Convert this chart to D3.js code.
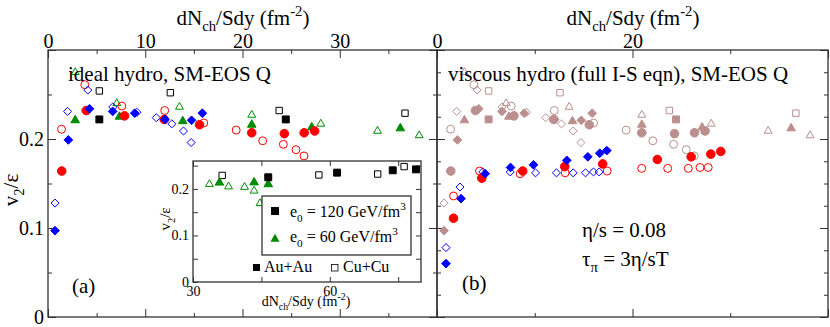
<!DOCTYPE html>
<meta charset="utf-8">
<html>
<head>
<script src="https://d3js.org/d3.v7.min.js"></script>
<style>
  body { margin: 0; background: #fff; }
  svg text { font-family: "Liberation Serif", "Times New Roman", Tinos, "Nimbus Roman", "DejaVu Serif", "Noto Serif", serif; fill: #000; }
</style>
</head>
<body>
<div id="chart"></div>
<script>
// ideal hydro points, left panel (also shown in rosy brown on the right panel)
var idealBlueFilled = [[0.72,0.097],[2.09,0.199],[4.27,0.234],[6.65,0.231],[8.92,0.229],[12.03,0.222],[14.76,0.221],[15.87,0.229]];
var idealBlueOpen = [[0.72,0.128],[2.01,0.231],[4.09,0.255],[6.66,0.236],[9.15,0.230],[11.13,0.224],[12.73,0.217],[13.93,0.209],[14.72,0.196]];
var idealRedFilled = [[1.41,0.164],[3.93,0.232],[7.87,0.226],[11.95,0.222],[15.58,0.216],[20.95,0.207],[24.30,0.206],[26.34,0.207],[27.42,0.209]];
var idealRedOpen = [[1.39,0.211],[3.78,0.261],[7.59,0.237],[12.0,0.232],[16.02,0.218],[19.35,0.210],[22.08,0.198],[24.20,0.194],[25.50,0.188],[26.32,0.181]];
var idealGreenFilled = [[2.80,0.221],[7.35,0.225],[13.86,0.220],[20.95,0.216],[27.12,0.213],[36.23,0.212]];
var idealGreenOpen = [[2.80,0.275],[7.07,0.240],[13.52,0.236],[20.95,0.227],[28.05,0.217],[33.88,0.209],[38.17,0.204]];
var idealBlackFilled = [[5.28,0.222],[24.45,0.222]];
var idealBlackOpen = [[5.28,0.254],[12.58,0.252],[23.77,0.232],[36.71,0.229]];

// viscous hydro points, right panel
var viscBlueFilled = [[0.92,0.060],[2.46,0.133],[4.93,0.161],[7.52,0.168],[9.87,0.171],[13.28,0.176],[15.43,0.180],[16.65,0.184],[17.37,0.187]];
var viscBlueOpen = [[0.92,0.078],[2.35,0.146],[4.68,0.163],[7.49,0.163],[10.08,0.162],[12.22,0.162],[13.93,0.162],[15.19,0.162],[16.01,0.163],[16.59,0.163]];
var viscRedFilled = [[1.69,0.111],[4.58,0.156],[8.77,0.164],[13.07,0.169],[16.95,0.172],[22.54,0.177],[26.0,0.180],[28.01,0.183],[29.03,0.186]];
var viscRedOpen = [[1.69,0.136],[4.35,0.164],[8.51,0.161],[13.11,0.162],[17.41,0.164],[20.94,0.167],[23.6,0.167],[25.71,0.167],[26.9,0.168],[27.75,0.168]];

// inset
var insetAuE120 = [[46.5,0.225],[61.6,0.235],[73.8,0.240],[78.9,0.242]];
var insetCuE120 = [[36.4,0.229],[57.6,0.230],[70.5,0.232],[76.3,0.248]];
var insetAuE60 = [[35.8,0.2135],[43.4,0.214],[46.5,0.210]];
var insetCuE60 = [[33.6,0.210],[37.8,0.205],[41.3,0.204],[43.4,0.196],[44.7,0.169]];

// ticks
var leftXLabelTicks = [0, 10, 20, 30];
var leftXMajor = [0, 10, 20, 30, 40];
var leftXMinor = [5, 15, 25, 35];
var rightXLabelTicks = [0, 20];
var rightXMajor = [0, 20, 40];
var rightXMinor = [10, 30];
var yLabelTicks = [0, 0.1, 0.2];
var yMajor = [0, 0.1, 0.2, 0.3];
var leftYMinor = [0.05, 0.15, 0.25];
var rightYMinor = [0.025, 0.05, 0.075, 0.125, 0.15, 0.175, 0.225, 0.25, 0.275];
var insetXLabelTicks = [30, 60];
var insetXTicks = [30, 45, 60, 75];
var insetYLabelTicks = [0, 0.1, 0.2];
var insetYTicks = [0.05, 0.1, 0.15, 0.2, 0.25];

var blue = "#0000ff", red = "#ff0000", green = "#008b00", black = "#000", rosy = "#bc8f8f";
var serif = '"Liberation Serif", "Times New Roman", Tinos, "Nimbus Roman", "DejaVu Serif", "Noto Serif", serif';

var svg = d3.select("#chart").append("svg")
    .attr("width", 830).attr("height", 327);

var xL = d3.scaleLinear().domain([0, 40]).range([48, 437]);
var xR = d3.scaleLinear().domain([0, 40]).range([437, 828]);
var y = d3.scaleLinear().domain([0, 0.3]).range([317, 50]);
var xIn = d3.scaleLinear().domain([30, 80]).range([193, 421]);
var yIn = d3.scaleLinear().domain([0, 0.26]).range([282, 161]);

// square rotated 45 degrees
var diamond = {
    draw: function (ctx, size) {
        var r = Math.sqrt(size / 2);
        ctx.moveTo(0, -r); ctx.lineTo(r, 0); ctx.lineTo(0, r); ctx.lineTo(-r, 0); ctx.closePath();
    }
};
var shapes = {
    circle: [d3.symbolCircle, 58],
    diamond: [diamond, 38],
    square: [d3.symbolSquare, 48],
    triangle: [d3.symbolTriangle, 32]
};

function markers(g, data, xs, ys, shape, color, filled) {
    var s = shapes[shape];
    g.append("g").selectAll("path")
        .data(data)
        .enter()
        .append("path")
        .attr("transform", function (d) { return "translate(" + xs(d[0]) + "," + ys(d[1]) + ")"; })
        .attr("d", d3.symbol().type(s[0]).size(filled ? s[1] : s[1] * 0.85))
        .attr("fill", filled ? color : "none")
        .attr("stroke", color)
        .attr("stroke-width", 1);
}

// text with sub/superscripts
function rich(g, x, yy, parts, size, anchor) {
    var t = g.append("text").attr("x", x).attr("y", yy)
        .attr("font-size", size).attr("text-anchor", anchor || "start");
    var shift = 0;
    parts.forEach(function (p) {
        var target = p[1] === "sub" ? size * 0.3 : p[1] === "sup" ? -size * 0.42 : 0;
        t.append("tspan").attr("dy", target - shift)
            .attr("font-size", p[1] ? size * 0.7 : size)
            .text(p[0]);
        shift = target;
    });
    return t;
}

function ticks(g, axisFn, scale, pos, values, len, labels, fs, pad) {
    var a = axisFn(scale).tickValues(values).tickSize(-len).tickPadding(pad || 3)
        .tickFormat(function (d) { return labels && labels.indexOf(d) >= 0 ? (d === 0 ? "0" : String(d)) : ""; });
    var ax = g.append("g").attr("transform", pos).call(a);
    ax.attr("font-family", null);
    ax.select(".domain").remove();
    ax.selectAll(".tick line").attr("stroke", "#333");
    ax.selectAll("text").style("font-family", serif).attr("font-size", fs || 20).attr("fill", "#000");
}

function frame(g, x0, y0, x1, y1, fill) {
    g.append("rect").attr("x", x0).attr("y", y0).attr("width", x1 - x0).attr("height", y1 - y0)
        .attr("fill", fill || "none").attr("stroke", "#333").attr("stroke-width", 1.3);
}

var titleParts = [["dN"], ["ch", "sub"], ["/Sdy (fm"], ["-2", "sup"], [")"]];

// ---- left panel
var gl = svg.append("g");
ticks(gl, d3.axisTop, xL, "translate(0,50)", leftXMajor, 8, leftXLabelTicks, 20, 2);
ticks(gl, d3.axisTop, xL, "translate(0,50)", leftXMinor, 4);
ticks(gl, d3.axisBottom, xL, "translate(0,317)", leftXMajor, 8);
ticks(gl, d3.axisBottom, xL, "translate(0,317)", leftXMinor, 4);
ticks(gl, d3.axisLeft, y, "translate(48,0)", yMajor, 8, yLabelTicks, 20, 4);
ticks(gl, d3.axisLeft, y, "translate(48,0)", leftYMinor, 4);
ticks(gl, d3.axisRight, y, "translate(437,0)", yMajor, 8);
ticks(gl, d3.axisRight, y, "translate(437,0)", leftYMinor, 4);

markers(gl, idealGreenOpen, xL, y, "triangle", green, false);
markers(gl, idealBlackOpen, xL, y, "square", black, false);
markers(gl, idealRedOpen, xL, y, "circle", red, false);
markers(gl, idealBlueOpen, xL, y, "diamond", blue, false);
markers(gl, idealGreenFilled, xL, y, "triangle", green, true);
markers(gl, idealBlackFilled, xL, y, "square", black, true);
markers(gl, idealRedFilled, xL, y, "circle", red, true);
markers(gl, idealBlueFilled, xL, y, "diamond", blue, true);

gl.append("text").attr("x", 68).attr("y", 81).attr("font-size", 21).text("ideal hydro, SM-EOS Q");
gl.append("text").attr("x", 72).attr("y", 293).attr("font-size", 21).text("(a)");
rich(gl, 243, 25, titleParts, 21, "middle");
rich(gl.append("g").attr("transform", "translate(18,190) rotate(-90)"), 0, 0,
    [["v"], ["2", "sub"], ["/\u03b5"]], 21, "middle");

// ---- inset
var gi = svg.append("g");
frame(gi, 193, 161, 421, 282, "#fff");
ticks(gi, d3.axisBottom, xIn, "translate(0,282)", insetXTicks, 5, insetXLabelTicks, 14, 4);
ticks(gi, d3.axisTop, xIn, "translate(0,161)", insetXTicks, 5);
ticks(gi, d3.axisLeft, yIn, "translate(193,0)", [0].concat(insetYTicks), 5, insetYLabelTicks, 14, 4);
ticks(gi, d3.axisRight, yIn, "translate(421,0)", insetYTicks, 5);
markers(gi, insetCuE60, xIn, yIn, "triangle", green, false);
markers(gi, insetCuE120, xIn, yIn, "square", black, false);
markers(gi, insetAuE60, xIn, yIn, "triangle", green, true);
markers(gi, insetAuE120, xIn, yIn, "square", black, true);
rich(gi, 306, 306, titleParts, 14, "middle");
rich(gi.append("g").attr("transform", "translate(170,219) rotate(-90)"), 0, 0,
    [["v"], ["2", "sub"], ["/\u03b5"]], 15, "middle");

// legend
frame(gi, 262, 196, 411, 255, "#fff");
var lg = gi.append("g");
lg.append("rect").attr("x", 271).attr("y", 207).attr("width", 8).attr("height", 8).attr("fill", black);
rich(lg, 290, 217, [["e"], ["0", "sub"], [" = 120 GeV/fm"], ["3", "sup"]], 16);
lg.append("path").attr("transform", "translate(275,239)")
    .attr("d", d3.symbol().type(d3.symbolTriangle).size(36)).attr("fill", green);
rich(lg, 290, 242, [["e"], ["0", "sub"], [" = 60 GeV/fm"], ["3", "sup"]], 16);
lg.append("rect").attr("x", 253).attr("y", 264).attr("width", 7).attr("height", 7).attr("fill", black);
lg.append("text").attr("x", 264).attr("y", 272).attr("font-size", 16).text("Au+Au");
lg.append("rect").attr("x", 331.5).attr("y", 264.5).attr("width", 6.5).attr("height", 6.5)
    .attr("fill", "none").attr("stroke", black).attr("stroke-width", 0.8);
lg.append("text").attr("x", 343).attr("y", 272).attr("font-size", 16).text("Cu+Cu");

// ---- right panel
var gr = svg.append("g");
ticks(gr, d3.axisTop, xR, "translate(0,50)", rightXMajor, 8, rightXLabelTicks, 20, 2);
ticks(gr, d3.axisTop, xR, "translate(0,50)", rightXMinor, 4);
ticks(gr, d3.axisBottom, xR, "translate(0,317)", rightXMajor, 8);
ticks(gr, d3.axisBottom, xR, "translate(0,317)", rightXMinor, 4);
ticks(gr, d3.axisLeft, y, "translate(437,0)", yMajor, 8);
ticks(gr, d3.axisLeft, y, "translate(437,0)", rightYMinor, 4);
ticks(gr, d3.axisRight, y, "translate(828,0)", yMajor, 8);
ticks(gr, d3.axisRight, y, "translate(828,0)", rightYMinor, 4);

markers(gr, idealGreenOpen, xR, y, "triangle", rosy, false);
markers(gr, idealBlackOpen, xR, y, "square", rosy, false);
markers(gr, idealRedOpen, xR, y, "circle", rosy, false);
markers(gr, idealBlueOpen, xR, y, "diamond", rosy, false);
markers(gr, idealGreenFilled, xR, y, "triangle", rosy, true);
markers(gr, idealBlackFilled, xR, y, "square", rosy, true);
markers(gr, idealRedFilled, xR, y, "circle", rosy, true);
markers(gr, idealBlueFilled, xR, y, "diamond", rosy, true);

markers(gr, viscRedOpen, xR, y, "circle", red, false);
markers(gr, viscBlueOpen, xR, y, "diamond", blue, false);
markers(gr, viscRedFilled, xR, y, "circle", red, true);
markers(gr, viscBlueFilled, xR, y, "diamond", blue, true);

gr.append("text").attr("x", 448).attr("y", 81).attr("font-size", 21).text("viscous hydro (full I-S eqn), SM-EOS Q");
gr.append("text").attr("x", 462).attr("y", 290).attr("font-size", 21).text("(b)");
gr.append("text").attr("x", 582).attr("y", 237).attr("font-size", 21).text("\u03b7/s = 0.08");
rich(gr, 582, 266, [["\u03c4"], ["\u03c0", "sub"], [" = 3\u03b7/sT"]], 21);
rich(gr, 633, 25, titleParts, 21, "middle");

frame(svg, 48, 50, 437, 317);
frame(svg, 437, 50, 828, 317);
</script>
</body>
</html>
